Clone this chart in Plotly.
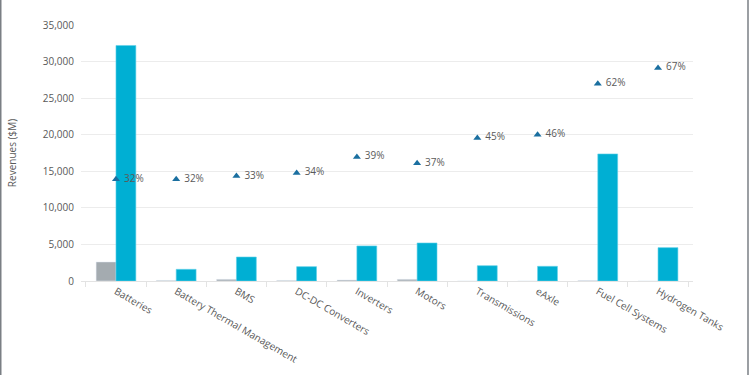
import plotly.graph_objects as go

categories = ["Batteries", "Battery Thermal Management", "BMS", "DC-DC Converters",
              "Inverters", "Motors", "Transmissions", "eAxle", "Fuel Cell Systems",
              "Hydrogen Tanks"]
revenue_start = [2600, 80, 230, 80, 140, 230, 0, 0, 70, 0]
revenue_end = [32200, 1600, 3280, 1960, 4790, 5200, 2090, 2010, 17370, 4560]
cagr = [0.32, 0.32, 0.33, 0.34, 0.39, 0.37, 0.45, 0.46, 0.62, 0.67]
cagr_labels = [f" {round(v*100)}%" for v in cagr]

W, H = 750, 375
ML, MR, MT, MB = 81, 57, 25, 94
PW = W - ML - MR
PH = H - MT - MB

fig = go.Figure()
fig.add_trace(go.Bar(x=categories, y=revenue_start, name="Start", marker_color="#a4abb0",
                     showlegend=False))
fig.add_trace(go.Bar(x=categories, y=revenue_end, name="End", marker_color="#00afd3",
                     marker_line=dict(color="#5fd0e8", width=0.6), showlegend=False))
fig.add_trace(go.Scatter(x=categories, y=cagr, yaxis="y2", mode="markers+text",
                         text=cagr_labels, textposition="middle right",
                         textfont=dict(size=10, color="#5a5a5a", family="Open Sans"),
                         marker=dict(symbol="triangle-up", size=7, color="#1a6fa0"),
                         showlegend=False, cliponaxis=False))

def px_x(p):
    return (p - ML) / PW

fig.update_layout(
    width=W, height=H,
    margin=dict(l=ML, r=MR, t=MT, b=MB, autoexpand=False),
    plot_bgcolor="white", paper_bgcolor="white",
    font=dict(family="Open Sans", size=10, color="#595959"),
    barmode="group", bargap=0.34, bargroupgap=0,
    xaxis=dict(type="category", showgrid=False, showline=True, linecolor="#e3e3e3",
               ticks="outside", tickson="boundaries", ticklen=5, tickcolor="#e3e3e3",
               tickangle=30, tickfont=dict(size=10, color="#595959")),
    yaxis=dict(range=[0, 35000], dtick=5000, tickformat=",d", showgrid=True,
               gridcolor="#ececec", zeroline=False, showline=False,
               ticklabelstandoff=6,
               title=dict(text="Revenues ($M)", font=dict(size=10, color="#595959"),
                          standoff=24)),
    yaxis2=dict(range=[0, 0.805], overlaying="y", visible=False),
    shapes=[
        dict(type="line", xref="paper", yref="paper", x0=px_x(0.75), x1=px_x(0.75),
             y0=-2, y1=2, line=dict(color="#7a7f84", width=1.5)),
        dict(type="line", xref="paper", yref="paper", x0=px_x(748), x1=px_x(748),
             y0=-2, y1=2, line=dict(color="#7a7f84", width=1.5)),
    ],
)

fig.write_html("out.html", config={"displayModeBar": False},
               post_script="document.body.style.margin='0px';")
